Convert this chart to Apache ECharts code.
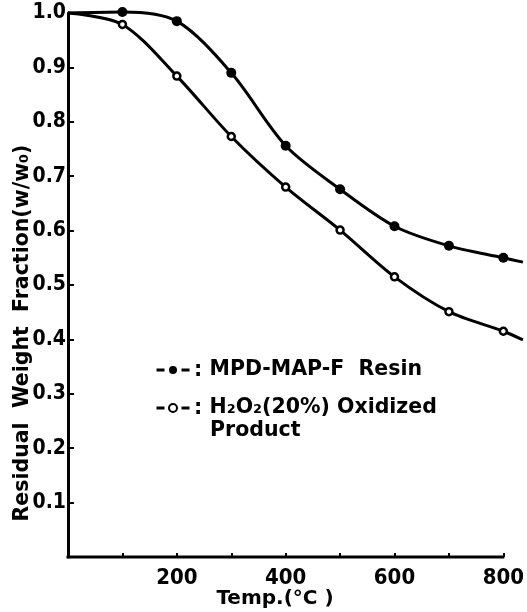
<!DOCTYPE html>
<html>
<head>
<meta charset="utf-8">
<script src="https://cdn.jsdelivr.net/npm/echarts@6/dist/echarts.min.js"></script>
<style>
  html, body { margin: 0; padding: 0; background: #fff; }
  #chart { width: 527px; height: 612px; }
</style>
</head>
<body>
<div id="chart"></div>
<script>
  // temperatures (°C) and residual weight fraction
  // (0 and 836 are only where the drawn curves start / leave the picture)
  const temps = [0, 100, 200, 300, 400, 500, 600, 700, 800, 836]
  const resin = [1.0, 1.002, 0.985, 0.89, 0.756, 0.676, 0.608, 0.572, 0.55, 0.542]
  const oxidized = [1.0, 0.979, 0.884, 0.773, 0.68, 0.601, 0.515, 0.451, 0.415, 0.399]
  const xTicks = [100, 200, 300, 400, 500, 600, 700, 800]
  const xLabels = [200, 400, 600, 800]
  const names = ['MPD-MAP-F  Resin', 'H\u2082O\u2082(20%) Oxidized']

  const font = '"DejaVu Sans"'
  const narrow = '"DejaVu Sans Condensed", "DejaVu Sans"'

  // first and last points are only curve ends, no marker there
  function toData(ys) {
    return ys.map((y, i) => {
      let item = {value: [temps[i], y]}
      if (i == 0 || i == ys.length - 1) item.symbol = 'none'
      return item
    })
  }

  let chart = echarts.init(document.getElementById('chart'))

  let option = {
    backgroundColor: '#fff',
    animation: false,
    grid: {left: 68, right: 0, top: 13, bottom: 55},
    legend: {
      orient: 'vertical',
      left: 150,
      top: 353,
      itemGap: 14,
      itemWidth: 33,
      itemHeight: 10,
      data: names,
      lineStyle: {type: [8, 17], width: 3, color: '#000'},
      textStyle: {fontFamily: font, fontWeight: 'bold', fontSize: 20.5, color: '#000', padding: [0, 0, 0, 15], lineHeight: 24}
    },
    xAxis: {
      type: 'value',
      min: 0,
      max: 836,
      axisLine: {show: false},
      axisTick: {inside: true, length: 4, customValues: xTicks, lineStyle: {color: '#000', width: 2}},
      axisLabel: {
        fontFamily: narrow, fontWeight: 'bold', fontSize: 22, color: '#000', margin: 10,
        customValues: xLabels
      },
      splitLine: {show: false}
    },
    yAxis: {
      type: 'value',
      min: 0,
      max: 1.0,
      interval: 0.1,
      axisLine: {show: true, lineStyle: {color: '#000', width: 3}},
      axisTick: {show: true, inside: true, length: 6, lineStyle: {color: '#000', width: 2}},
      axisLabel: {
        fontFamily: narrow, fontWeight: 'bold', fontSize: 21, color: '#000', margin: 2,
        formatter: v => v == 0 ? '' : v.toFixed(1)
      },
      splitLine: {show: false}
    },
    series: [
      {
        name: names[0],
        type: 'line',
        smooth: 0.3,
        clip: false,
        symbol: 'circle',
        symbolSize: 10,
        itemStyle: {color: '#000'},
        lineStyle: {color: '#000', width: 3},
        data: toData(resin)
      },
      {
        name: names[1],
        type: 'line',
        smooth: 0.3,
        clip: false,
        symbol: 'circle',
        symbolSize: 7,
        itemStyle: {color: '#fff', borderColor: '#000', borderWidth: 2.5},
        lineStyle: {color: '#000', width: 3},
        data: toData(oxidized)
      }
    ]
  }

  chart.setOption(option)

  // x axis line only runs to 800 in the original
  let p0 = chart.convertToPixel({gridIndex: 0}, [0, 0])
  let p1 = chart.convertToPixel({gridIndex: 0}, [800, 0])
  let tFont = 'bold 20.5px "DejaVu Sans"'
  chart.setOption({
    graphic: [
      {type: 'line', shape: {x1: p0[0] - 1.5, y1: p0[1], x2: p1[0] + 1, y2: p1[1]}, style: {stroke: '#000', lineWidth: 3}},
      {
        type: 'text', x: 275, y: 599,
        style: {text: 'Temp.(°C )', font: 'bold 20px "DejaVu Sans"', fill: '#000', align: 'center', verticalAlign: 'middle'}
      },
      {
        type: 'text', x: 23, y: 333,
        rotation: Math.PI / 2,
        style: {
          text: 'Residual  Weight  Fraction(w/w\u2080)',
          font: 'bold 20.5px "DejaVu Sans"',
          fill: '#000', align: 'center', verticalAlign: 'middle'
        }
      },
      {type: 'text', x: 198, y: 371, style: {text: ':', font: tFont, fill: '#000', align: 'center', verticalAlign: 'middle'}},
      {type: 'text', x: 198, y: 409, style: {text: ':', font: tFont, fill: '#000', align: 'center', verticalAlign: 'middle'}},
      {type: 'text', x: 210, y: 431, style: {text: 'Product', font: tFont, fill: '#000', align: 'left', verticalAlign: 'middle'}}
    ]
  })
</script>
</body>
</html>
